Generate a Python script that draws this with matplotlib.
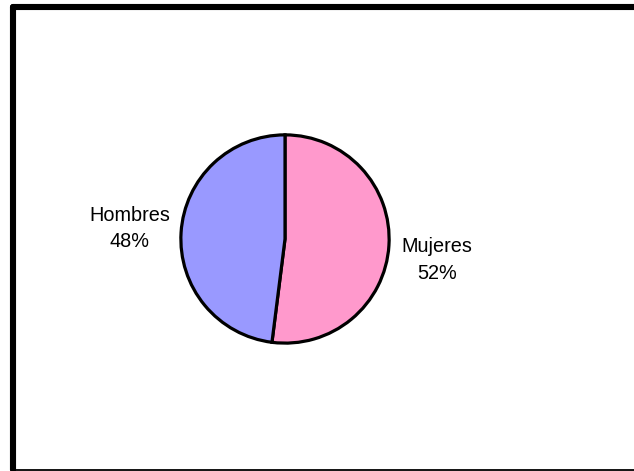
import matplotlib
matplotlib.use("Agg")
import matplotlib.pyplot as plt
from matplotlib.lines import Line2D

plt.rcParams["font.family"] = ["Liberation Sans", "DejaVu Sans"]

# share by sex
labels = ["Mujeres", "Hombres"]
shares = [52, 48]
colors = ["#FF99CC", "#9999FF"]

W, H = 634, 471
fig = plt.figure(figsize=(W / 100, H / 100), dpi=100)
fig.patch.set_facecolor("white")

# pie centred at (285, 239) px, radius ~105 px
cx, cy, r = 285, 239, 106
ax = fig.add_axes([(cx - r) / W, (H - cy - r) / H, 2 * r / W, 2 * r / H])

texts = [f"{lab}\n{v}%" for lab, v in zip(labels, shares)]
wedges, lbls = ax.pie(shares, colors=colors, startangle=90, counterclock=False,
                      labels=texts, labeldistance=1.5,
                      wedgeprops=dict(edgecolor="black", linewidth=2.3),
                      textprops=dict(fontsize=14.3, color="black",
                                     ha="center", va="center",
                                     linespacing=1.5))
ax.set_xlim(-1.018, 1.018)
ax.set_ylim(-1.018, 1.018)
ax.set_aspect("equal")
ax.axis("off")

# label spots, in units of the pie radius
spots = {"Mujeres": (1.46, -0.20), "Hombres": (-1.49, 0.10)}
for lab, t in zip(labels, lbls):
    t.set_position(spots[lab])
    t.set_clip_on(False)

# chart area border: heavy left/top, thin bottom
def fx(px):
    return px / W

def fy(py):
    return 1 - py / H

fig.add_artist(Line2D([fx(13), fx(13)], [fy(7), fy(470)], color="black",
                      linewidth=4.4, solid_capstyle="round"))
fig.add_artist(Line2D([fx(13), fx(640)], [fy(7), fy(7)], color="black",
                      linewidth=4.4, solid_capstyle="round"))
fig.add_artist(Line2D([fx(13), fx(640)], [fy(469.8), fy(469.8)],
                      color="black", linewidth=1.3))

fig.savefig("out.png", dpi=100)
